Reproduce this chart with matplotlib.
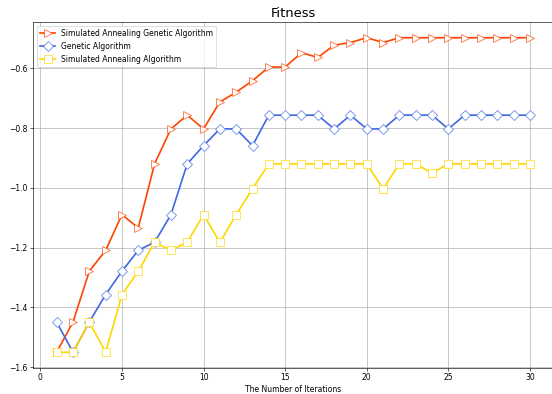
import matplotlib
matplotlib.use("Agg")
import matplotlib.pyplot as plt
from matplotlib.colors import to_rgba

iterations = list(range(1, 31))

saga = [-1.550, -1.449, -1.279, -1.209, -1.090, -1.134, -0.920, -0.803, -0.757, -0.803,
        -0.713, -0.680, -0.642, -0.596, -0.596, -0.548, -0.564, -0.523, -0.514, -0.498,
        -0.514, -0.498, -0.498, -0.498, -0.498, -0.498, -0.498, -0.498, -0.498, -0.498]

ga = [-1.449, -1.550, -1.449, -1.357, -1.279, -1.209, -1.182, -1.090, -0.920, -0.859,
      -0.803, -0.803, -0.859, -0.757, -0.757, -0.757, -0.757, -0.803, -0.757, -0.803,
      -0.803, -0.757, -0.757, -0.757, -0.803, -0.757, -0.757, -0.757, -0.757, -0.757]

sa = [-1.550, -1.550, -1.449, -1.550, -1.357, -1.279, -1.182, -1.209, -1.182, -1.090,
      -1.182, -1.090, -1.003, -0.920, -0.920, -0.920, -0.920, -0.920, -0.920, -0.920,
      -1.003, -0.920, -0.920, -0.951, -0.920, -0.920, -0.920, -0.920, -0.920, -0.920]

labels = ["Simulated Annealing Genetic Algorithm", "Genetic Algorithm",
          "Simulated Annealing Algorithm"]

fig = plt.figure(figsize=(10, 7.1377), dpi=55.2)
ax = fig.add_axes([33 / 552, 26 / 394, (553.6 - 33) / 552, 346 / 394])

series = [(saga, "#FF4500", ">", 10.5), (ga, "#4169E1", "D", 9), (sa, "#FFD700", "s", 11)]
for (vals, col, mk, ms), lab in zip(series, labels):
    ax.plot(iterations, vals, color=col, lw=2.2, marker=mk, markersize=ms,
            markerfacecolor="white", markeredgecolor=to_rgba(col, 0.7),
            markeredgewidth=1.2, label=lab)

ax.grid(True, color="#b0b0b0", lw=0.9)
ax.set_title("Fitness", fontsize=17)
ax.set_xlabel("The Number of Iterations")
ax.legend(loc="upper left")

fig.savefig("out.png", dpi=55.2)
